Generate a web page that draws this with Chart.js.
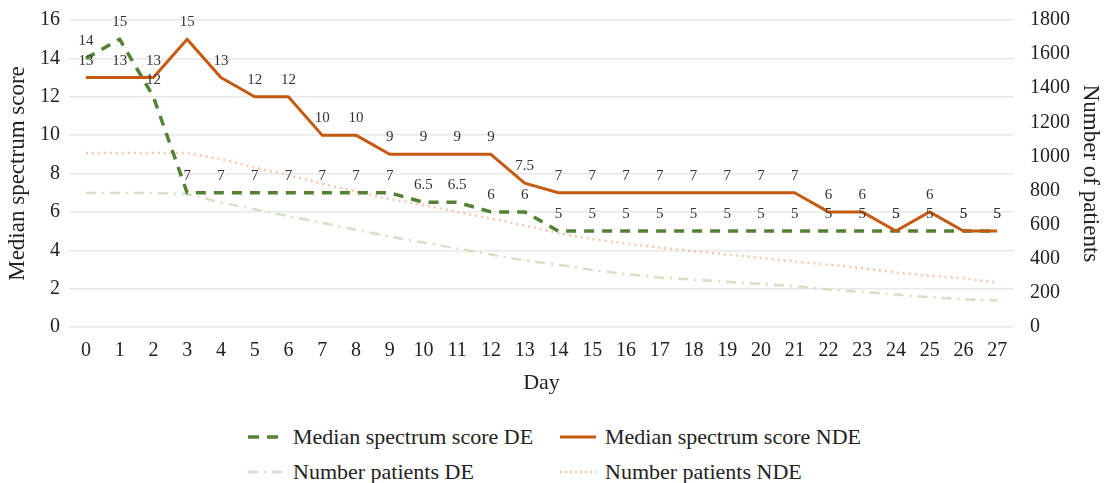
<!DOCTYPE html>
<html>
<head>
<meta charset="utf-8">
<script src="https://cdn.jsdelivr.net/npm/chart.js@4.4.1/dist/chart.umd.min.js"></script>
<style>
  body{margin:0;background:#fff;font-family:"Liberation Serif",serif;}
  #wrap{position:relative;width:1104px;height:483px;}
  #chartBox{position:absolute;left:0;top:0;width:1104px;height:400px;}
  #legend{position:absolute;left:248px;top:424px;display:grid;grid-template-columns:312px 320px;row-gap:9px;font-size:22px;color:#222;}
  .item{display:flex;align-items:center;height:26px;white-space:nowrap;}
  .item svg{margin-right:9px;}
</style>
</head>
<body>
<div id="wrap">
  <div id="chartBox"><canvas id="myChart"></canvas></div>
  <div id="legend">
    <div class="item"><svg width="36" height="6"><line x1="0" y1="3" x2="36" y2="3" stroke="#548235" stroke-width="3.5" stroke-dasharray="11 8"/></svg>Median spectrum score DE</div>
    <div class="item"><svg width="36" height="6"><line x1="0" y1="3" x2="36" y2="3" stroke="#c55a11" stroke-width="3"/></svg>Median spectrum score NDE</div>
    <div class="item"><svg width="36" height="6"><line x1="0" y1="3" x2="36" y2="3" stroke="#d3e2c3" stroke-width="2.5" stroke-dasharray="10 6 2 6"/></svg>Number patients DE</div>
    <div class="item"><svg width="36" height="6"><line x1="0" y1="3" x2="36" y2="3" stroke="#f6c6ab" stroke-width="2.5" stroke-dasharray="2 3"/></svg>Number patients NDE</div>
  </div>
</div>
<script>
const days=['0','1','2','3','4','5','6','7','8','9','10','11','12','13','14','15','16','17','18','19','20','21','22','23','24','25','26','27'];
const medianDE=[14,15,12,7,7,7,7,7,7,7,6.5,6.5,6,6,5,5,5,5,5,5,5,5,5,5,5,5,5,5];
const medianNDE=[13,13,13,15,13,12,12,10,10,9,9,9,9,7.5,7,7,7,7,7,7,7,7,6,6,5,6,5,5];
const patientsDE=[785,785,785,780,730,690,650,610,570,530,495,460,425,390,365,335,310,290,278,265,252,240,220,205,190,175,162,155];
const patientsNDE=[1020,1020,1020,1020,985,935,890,840,795,750,715,675,635,595,550,515,490,465,445,425,405,385,365,345,320,300,285,260];

const fam='"Liberation Serif", serif';

// value labels above the two median lines
const labelPlugin={
  id:'pointLabels',
  afterDatasetsDraw(chart){
    const ctx=chart.ctx;
    ctx.save();
    ctx.font='15px '+fam;
    ctx.fillStyle='#333';
    ctx.textAlign='center';
    ctx.textBaseline='middle';
    [0,1].forEach(i=>{
      const meta=chart.getDatasetMeta(i);
      meta.data.forEach((pt,j)=>{
        ctx.fillText(String(chart.data.datasets[i].data[j]),pt.x,pt.y-17);
      });
    });
    ctx.restore();
  }
};

window.addEventListener('load',()=>{
  const ctx=document.getElementById('myChart');
  new Chart(ctx,{
    type:'line',
    data:{
      labels:days,
      datasets:[
        {label:'Median spectrum score DE',data:medianDE,borderColor:'#548235',borderWidth:3.5,borderDash:[10,8],yAxisID:'y',order:2},
        {label:'Median spectrum score NDE',data:medianNDE,borderColor:'#c55a11',borderWidth:3,yAxisID:'y',order:1},
        {label:'Number patients DE',data:patientsDE,borderColor:'#d3e2c3',borderWidth:2.5,borderDash:[10,6,2,6],yAxisID:'y1',order:3},
        {label:'Number patients NDE',data:patientsNDE,borderColor:'#f6c6ab',borderWidth:2.5,borderDash:[2,4],yAxisID:'y1',order:4}
      ]
    },
    options:{
      responsive:true,
      maintainAspectRatio:false,
      animation:false,
      elements:{point:{radius:0},line:{tension:0,borderJoinStyle:'round'}},
      layout:{padding:{top:0,left:0,right:0,bottom:0}},
      plugins:{legend:{display:false},tooltip:{enabled:false}},
      scales:{
        x:{
          offset:true,
          grid:{display:false,drawTicks:false},
          border:{display:false},
          ticks:{color:'#222',padding:12,font:{family:fam,size:20},maxRotation:0,autoSkip:false},
          title:{display:true,text:'Day',color:'#222',padding:{top:4,bottom:4},font:{family:fam,size:22}},
          afterFit:s=>{s.height=73;}
        },
        y:{
          position:'left',min:0,max:16,
          ticks:{stepSize:2,padding:9,color:'#222',font:{family:fam,size:20}},
          grid:{color:'#e8e8e8',lineWidth:1.5,drawTicks:false},
          border:{display:false},
          title:{display:true,text:'Median spectrum score',color:'#222',padding:{top:4,bottom:4},font:{family:fam,size:23}},
          afterFit:s=>{s.width=69;s.paddingTop=20;}
        },
        y1:{
          position:'right',min:0,max:1800,
          ticks:{stepSize:200,padding:16,color:'#222',font:{family:fam,size:20},callback:v=>String(v)},
          grid:{display:false,drawTicks:false},
          border:{display:false},
          title:{display:true,text:'Number of patients',color:'#222',padding:{top:0,bottom:4},font:{family:fam,size:23}},
          afterFit:s=>{s.width=90;s.paddingTop=20;}
        }
      }
    },
    plugins:[labelPlugin]
  });
});
</script>
</body>
</html>
